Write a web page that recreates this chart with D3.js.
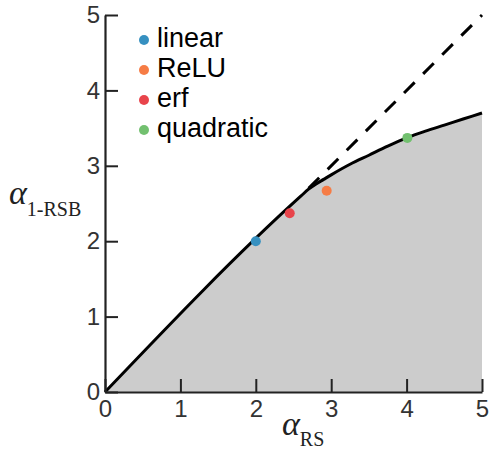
<!DOCTYPE html>
<html>
<head>
<meta charset="utf-8">
<script src="https://cdn.jsdelivr.net/npm/d3@7"></script>
<style>
  html, body { margin: 0; padding: 0; background: #fff; }
  svg { display: block; }
</style>
</head>
<body>
<svg id="chart" width="489" height="451"></svg>
<script>
// ---- data ----
const xTicks = [0, 1, 2, 3, 4, 5];
const yTicks = [0, 1, 2, 3, 4, 5];
const curveX = [0, 2.6, 2.7, 2.8, 2.9, 3.0, 3.25, 3.5, 3.75, 4.0, 4.25, 4.5, 4.75, 5.0];
const curveY = [0, 2.6, 2.69, 2.76, 2.82, 2.88, 3.02, 3.14, 3.26, 3.37, 3.46, 3.54, 3.62, 3.70];
const dashX = [2.7, 5];
const dashY = [2.7, 5];
const pointNames = ["linear", "ReLU", "erf", "quadratic"];
const pointX = [2.0, 2.94, 2.45, 4.01];
const pointY = [2.0, 2.67, 2.37, 3.37];
const pointColors = ["#3690c0", "#f67c45", "#e8444b", "#72c06f"];

// ---- layout ----
const svg = d3.select("#chart");
const x = d3.scaleLinear().domain([0, 5]).range([105, 482]);
const y = d3.scaleLinear().domain([0, 5]).range([392, 15]);

const curve = curveX.map((v, i) => [v, curveY[i]]);

// filled area
svg.append("path")
  .datum(curve)
  .attr("fill", "#cccccc")
  .attr("d", d3.area().x(d => x(d[0])).y0(y(0)).y1(d => y(d[1])).curve(d3.curveMonotoneX));

// dashed line
svg.append("path")
  .datum(dashX.map((v, i) => [v, dashY[i]]))
  .attr("fill", "none")
  .attr("stroke", "#000")
  .attr("stroke-width", 3)
  .attr("stroke-dasharray", "15,12")
  .attr("d", d3.line().x(d => x(d[0])).y(d => y(d[1])));

// solid curve
svg.append("path")
  .datum(curve)
  .attr("fill", "none")
  .attr("stroke", "#000")
  .attr("stroke-width", 3)
  .attr("d", d3.line().x(d => x(d[0])).y(d => y(d[1])).curve(d3.curveMonotoneX));

// axes
const fontSans = "'Liberation Sans', Arial, sans-serif";
const gx = svg.append("g").attr("transform", `translate(0,${y(0)})`)
  .call(d3.axisBottom(x).tickValues(xTicks).tickFormat(d3.format("d")).tickSizeInner(-13).tickSizeOuter(0).tickPadding(8));
const gy = svg.append("g").attr("transform", `translate(${x(0)},0)`)
  .call(d3.axisLeft(y).tickValues(yTicks).tickFormat(d3.format("d")).tickSizeInner(-13).tickSizeOuter(0).tickPadding(5));
[gx, gy].forEach(g => {
  g.select(".domain").attr("stroke", "#222").attr("stroke-width", 2.2);
  g.selectAll(".tick line").attr("stroke", "#222").attr("stroke-width", 2);
  g.selectAll(".tick text").attr("fill", "#333").style("font-family", fontSans).style("font-size", "24px");
});

// points
svg.append("g").selectAll("circle")
  .data(pointNames)
  .join("circle")
  .attr("cx", (d, i) => x(pointX[i]))
  .attr("cy", (d, i) => y(pointY[i]))
  .attr("r", 5)
  .attr("fill", (d, i) => pointColors[i]);

// legend
const leg = svg.append("g");
pointNames.forEach((name, i) => {
  const ly = 40 + i * 30;
  leg.append("circle").attr("cx", 144).attr("cy", ly).attr("r", 5).attr("fill", pointColors[i]);
  leg.append("text").attr("x", 157).attr("y", ly + 7)
    .style("font-family", fontSans).style("font-size", "27px").attr("fill", "#000").text(name);
});

// axis titles
const fontSerif = "'Liberation Serif', 'Times New Roman', serif";
const xt = svg.append("text").attr("x", 282).attr("y", 435).style("font-family", fontSerif).attr("fill", "#222");
xt.append("tspan").style("font-style", "italic").style("font-size", "34px").text("α");
xt.append("tspan").style("font-size", "20px").attr("dy", 11).text("RS");

const yt = svg.append("text").attr("x", 9).attr("y", 204).style("font-family", fontSerif).attr("fill", "#222");
yt.append("tspan").style("font-style", "italic").style("font-size", "34px").text("α");
yt.append("tspan").style("font-size", "20px").attr("dy", 12).text("1-RSB");
</script>
</body>
</html>
